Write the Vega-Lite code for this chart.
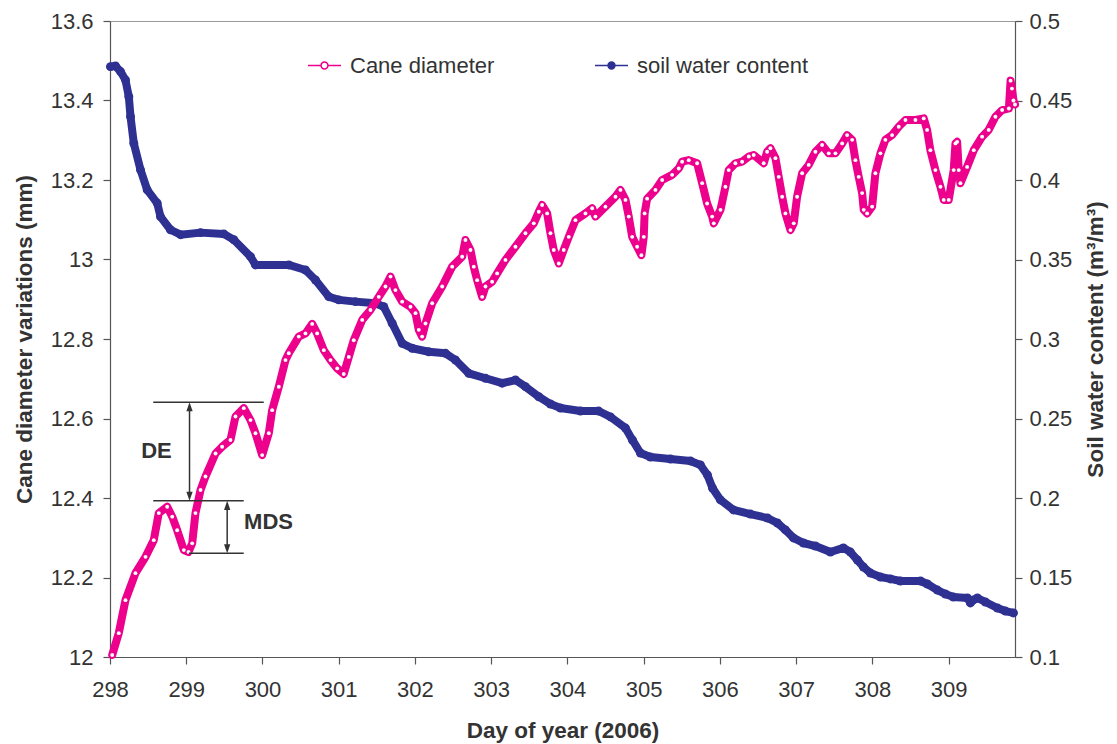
{
  "$schema": "https://vega.github.io/schema/vega-lite/v6.json",
  "width": 905,
  "height": 636,
  "autosize": {"type": "none"},
  "padding": {"left": 110, "top": 21, "right": 102, "bottom": 87},
  "background": "white",
  "config": {
    "font": "Liberation Sans",
    "view": {"stroke": "#999", "strokeWidth": 1},
    "axis": {
      "grid": false,
      "domainColor": "#555",
      "domainWidth": 1.2,
      "tickColor": "#555",
      "tickWidth": 1.2,
      "tickSize": 7,
      "labelFont": "Liberation Sans",
      "labelFontSize": 22,
      "labelColor": "#333",
      "labelFlush": false,
      "titleFont": "Liberation Sans",
      "titleFontSize": 22.5,
      "titleFontWeight": "bold",
      "titleColor": "#333"
    },
    "legend": {
      "title": null,
      "orient": "none",
      "symbolType": "M-1,0L-0.21,0M0.21,0L1,0M-0.21,0A0.21,0.21,0,1,1,0.21,0A0.21,0.21,0,1,1,-0.21,0Z",
      "symbolSize": 1089,
      "symbolStrokeWidth": 1.5,
      "symbolOpacity": 1,
      "labelFont": "Liberation Sans",
      "labelFontSize": 22,
      "labelColor": "#333",
      "labelOffset": 8,
      "labelLimit": 500
    }
  },
  "datasets": {
    "series": [
      {"day": 298.029, "value": 12.005, "series": "Cane diameter"},
      {"day": 298.115, "value": 12.060, "series": "Cane diameter"},
      {"day": 298.203, "value": 12.143, "series": "Cane diameter"},
      {"day": 298.334, "value": 12.211, "series": "Cane diameter"},
      {"day": 298.466, "value": 12.252, "series": "Cane diameter"},
      {"day": 298.574, "value": 12.294, "series": "Cane diameter"},
      {"day": 298.640, "value": 12.362, "series": "Cane diameter"},
      {"day": 298.750, "value": 12.378, "series": "Cane diameter"},
      {"day": 298.816, "value": 12.353, "series": "Cane diameter"},
      {"day": 298.881, "value": 12.319, "series": "Cane diameter"},
      {"day": 298.968, "value": 12.269, "series": "Cane diameter"},
      {"day": 299.030, "value": 12.264, "series": "Cane diameter"},
      {"day": 299.078, "value": 12.286, "series": "Cane diameter"},
      {"day": 299.121, "value": 12.362, "series": "Cane diameter"},
      {"day": 299.187, "value": 12.420, "series": "Cane diameter"},
      {"day": 299.252, "value": 12.454, "series": "Cane diameter"},
      {"day": 299.384, "value": 12.512, "series": "Cane diameter"},
      {"day": 299.471, "value": 12.529, "series": "Cane diameter"},
      {"day": 299.580, "value": 12.546, "series": "Cane diameter"},
      {"day": 299.646, "value": 12.605, "series": "Cane diameter"},
      {"day": 299.755, "value": 12.626, "series": "Cane diameter"},
      {"day": 299.843, "value": 12.596, "series": "Cane diameter"},
      {"day": 299.908, "value": 12.563, "series": "Cane diameter"},
      {"day": 299.996, "value": 12.508, "series": "Cane diameter"},
      {"day": 300.083, "value": 12.563, "series": "Cane diameter"},
      {"day": 300.127, "value": 12.621, "series": "Cane diameter"},
      {"day": 300.214, "value": 12.680, "series": "Cane diameter"},
      {"day": 300.302, "value": 12.747, "series": "Cane diameter"},
      {"day": 300.345, "value": 12.764, "series": "Cane diameter"},
      {"day": 300.476, "value": 12.806, "series": "Cane diameter"},
      {"day": 300.564, "value": 12.814, "series": "Cane diameter"},
      {"day": 300.652, "value": 12.838, "series": "Cane diameter"},
      {"day": 300.717, "value": 12.814, "series": "Cane diameter"},
      {"day": 300.804, "value": 12.772, "series": "Cane diameter"},
      {"day": 300.892, "value": 12.747, "series": "Cane diameter"},
      {"day": 300.980, "value": 12.726, "series": "Cane diameter"},
      {"day": 301.066, "value": 12.712, "series": "Cane diameter"},
      {"day": 301.132, "value": 12.755, "series": "Cane diameter"},
      {"day": 301.197, "value": 12.797, "series": "Cane diameter"},
      {"day": 301.308, "value": 12.848, "series": "Cane diameter"},
      {"day": 301.416, "value": 12.873, "series": "Cane diameter"},
      {"day": 301.525, "value": 12.906, "series": "Cane diameter"},
      {"day": 301.613, "value": 12.932, "series": "Cane diameter"},
      {"day": 301.679, "value": 12.957, "series": "Cane diameter"},
      {"day": 301.744, "value": 12.923, "series": "Cane diameter"},
      {"day": 301.832, "value": 12.894, "series": "Cane diameter"},
      {"day": 301.941, "value": 12.881, "series": "Cane diameter"},
      {"day": 302.007, "value": 12.865, "series": "Cane diameter"},
      {"day": 302.050, "value": 12.823, "series": "Cane diameter"},
      {"day": 302.094, "value": 12.806, "series": "Cane diameter"},
      {"day": 302.138, "value": 12.839, "series": "Cane diameter"},
      {"day": 302.226, "value": 12.890, "series": "Cane diameter"},
      {"day": 302.357, "value": 12.932, "series": "Cane diameter"},
      {"day": 302.488, "value": 12.982, "series": "Cane diameter"},
      {"day": 302.619, "value": 13.007, "series": "Cane diameter"},
      {"day": 302.662, "value": 13.049, "series": "Cane diameter"},
      {"day": 302.728, "value": 13.024, "series": "Cane diameter"},
      {"day": 302.771, "value": 12.982, "series": "Cane diameter"},
      {"day": 302.816, "value": 12.948, "series": "Cane diameter"},
      {"day": 302.881, "value": 12.906, "series": "Cane diameter"},
      {"day": 302.925, "value": 12.932, "series": "Cane diameter"},
      {"day": 303.012, "value": 12.944, "series": "Cane diameter"},
      {"day": 303.078, "value": 12.965, "series": "Cane diameter"},
      {"day": 303.187, "value": 12.999, "series": "Cane diameter"},
      {"day": 303.318, "value": 13.032, "series": "Cane diameter"},
      {"day": 303.449, "value": 13.066, "series": "Cane diameter"},
      {"day": 303.558, "value": 13.091, "series": "Cane diameter"},
      {"day": 303.624, "value": 13.120, "series": "Cane diameter"},
      {"day": 303.668, "value": 13.137, "series": "Cane diameter"},
      {"day": 303.734, "value": 13.116, "series": "Cane diameter"},
      {"day": 303.777, "value": 13.066, "series": "Cane diameter"},
      {"day": 303.820, "value": 13.024, "series": "Cane diameter"},
      {"day": 303.886, "value": 12.990, "series": "Cane diameter"},
      {"day": 303.951, "value": 13.024, "series": "Cane diameter"},
      {"day": 304.017, "value": 13.057, "series": "Cane diameter"},
      {"day": 304.105, "value": 13.099, "series": "Cane diameter"},
      {"day": 304.236, "value": 13.116, "series": "Cane diameter"},
      {"day": 304.324, "value": 13.129, "series": "Cane diameter"},
      {"day": 304.367, "value": 13.108, "series": "Cane diameter"},
      {"day": 304.498, "value": 13.133, "series": "Cane diameter"},
      {"day": 304.630, "value": 13.158, "series": "Cane diameter"},
      {"day": 304.695, "value": 13.175, "series": "Cane diameter"},
      {"day": 304.761, "value": 13.150, "series": "Cane diameter"},
      {"day": 304.804, "value": 13.108, "series": "Cane diameter"},
      {"day": 304.849, "value": 13.057, "series": "Cane diameter"},
      {"day": 304.914, "value": 13.032, "series": "Cane diameter"},
      {"day": 304.970, "value": 13.011, "series": "Cane diameter"},
      {"day": 305.001, "value": 13.057, "series": "Cane diameter"},
      {"day": 305.012, "value": 13.116, "series": "Cane diameter"},
      {"day": 305.045, "value": 13.153, "series": "Cane diameter"},
      {"day": 305.154, "value": 13.175, "series": "Cane diameter"},
      {"day": 305.242, "value": 13.200, "series": "Cane diameter"},
      {"day": 305.373, "value": 13.213, "series": "Cane diameter"},
      {"day": 305.460, "value": 13.229, "series": "Cane diameter"},
      {"day": 305.504, "value": 13.246, "series": "Cane diameter"},
      {"day": 305.591, "value": 13.250, "series": "Cane diameter"},
      {"day": 305.701, "value": 13.242, "series": "Cane diameter"},
      {"day": 305.767, "value": 13.192, "series": "Cane diameter"},
      {"day": 305.832, "value": 13.141, "series": "Cane diameter"},
      {"day": 305.898, "value": 13.108, "series": "Cane diameter"},
      {"day": 305.919, "value": 13.091, "series": "Cane diameter"},
      {"day": 306.007, "value": 13.125, "series": "Cane diameter"},
      {"day": 306.072, "value": 13.183, "series": "Cane diameter"},
      {"day": 306.115, "value": 13.225, "series": "Cane diameter"},
      {"day": 306.203, "value": 13.242, "series": "Cane diameter"},
      {"day": 306.291, "value": 13.246, "series": "Cane diameter"},
      {"day": 306.378, "value": 13.259, "series": "Cane diameter"},
      {"day": 306.443, "value": 13.263, "series": "Cane diameter"},
      {"day": 306.574, "value": 13.242, "series": "Cane diameter"},
      {"day": 306.619, "value": 13.271, "series": "Cane diameter"},
      {"day": 306.662, "value": 13.280, "series": "Cane diameter"},
      {"day": 306.728, "value": 13.255, "series": "Cane diameter"},
      {"day": 306.771, "value": 13.208, "series": "Cane diameter"},
      {"day": 306.816, "value": 13.158, "series": "Cane diameter"},
      {"day": 306.859, "value": 13.116, "series": "Cane diameter"},
      {"day": 306.925, "value": 13.074, "series": "Cane diameter"},
      {"day": 306.968, "value": 13.091, "series": "Cane diameter"},
      {"day": 307.012, "value": 13.158, "series": "Cane diameter"},
      {"day": 307.078, "value": 13.217, "series": "Cane diameter"},
      {"day": 307.164, "value": 13.238, "series": "Cane diameter"},
      {"day": 307.252, "value": 13.271, "series": "Cane diameter"},
      {"day": 307.340, "value": 13.288, "series": "Cane diameter"},
      {"day": 307.427, "value": 13.267, "series": "Cane diameter"},
      {"day": 307.515, "value": 13.267, "series": "Cane diameter"},
      {"day": 307.603, "value": 13.292, "series": "Cane diameter"},
      {"day": 307.668, "value": 13.313, "series": "Cane diameter"},
      {"day": 307.734, "value": 13.301, "series": "Cane diameter"},
      {"day": 307.777, "value": 13.250, "series": "Cane diameter"},
      {"day": 307.820, "value": 13.208, "series": "Cane diameter"},
      {"day": 307.865, "value": 13.167, "series": "Cane diameter"},
      {"day": 307.886, "value": 13.125, "series": "Cane diameter"},
      {"day": 307.931, "value": 13.116, "series": "Cane diameter"},
      {"day": 307.996, "value": 13.133, "series": "Cane diameter"},
      {"day": 308.039, "value": 13.217, "series": "Cane diameter"},
      {"day": 308.105, "value": 13.267, "series": "Cane diameter"},
      {"day": 308.170, "value": 13.301, "series": "Cane diameter"},
      {"day": 308.258, "value": 13.313, "series": "Cane diameter"},
      {"day": 308.345, "value": 13.334, "series": "Cane diameter"},
      {"day": 308.433, "value": 13.351, "series": "Cane diameter"},
      {"day": 308.564, "value": 13.351, "series": "Cane diameter"},
      {"day": 308.673, "value": 13.355, "series": "Cane diameter"},
      {"day": 308.717, "value": 13.326, "series": "Cane diameter"},
      {"day": 308.760, "value": 13.275, "series": "Cane diameter"},
      {"day": 308.826, "value": 13.225, "series": "Cane diameter"},
      {"day": 308.892, "value": 13.183, "series": "Cane diameter"},
      {"day": 308.935, "value": 13.150, "series": "Cane diameter"},
      {"day": 309.001, "value": 13.150, "series": "Cane diameter"},
      {"day": 309.066, "value": 13.225, "series": "Cane diameter"},
      {"day": 309.089, "value": 13.292, "series": "Cane diameter"},
      {"day": 309.111, "value": 13.296, "series": "Cane diameter"},
      {"day": 309.132, "value": 13.225, "series": "Cane diameter"},
      {"day": 309.154, "value": 13.192, "series": "Cane diameter"},
      {"day": 309.242, "value": 13.233, "series": "Cane diameter"},
      {"day": 309.329, "value": 13.275, "series": "Cane diameter"},
      {"day": 309.439, "value": 13.309, "series": "Cane diameter"},
      {"day": 309.525, "value": 13.326, "series": "Cane diameter"},
      {"day": 309.613, "value": 13.359, "series": "Cane diameter"},
      {"day": 309.701, "value": 13.376, "series": "Cane diameter"},
      {"day": 309.790, "value": 13.380, "series": "Cane diameter"},
      {"day": 309.812, "value": 13.450, "series": "Cane diameter"},
      {"day": 309.830, "value": 13.430, "series": "Cane diameter"},
      {"day": 309.850, "value": 13.400, "series": "Cane diameter"},
      {"day": 309.870, "value": 13.390, "series": "Cane diameter"},
      {"day": 298.007, "value": 0.4713, "series": "soil water content"},
      {"day": 298.072, "value": 0.4717, "series": "soil water content"},
      {"day": 298.138, "value": 0.4682, "series": "soil water content"},
      {"day": 298.203, "value": 0.4629, "series": "soil water content"},
      {"day": 298.247, "value": 0.4524, "series": "soil water content"},
      {"day": 298.269, "value": 0.4399, "series": "soil water content"},
      {"day": 298.312, "value": 0.4231, "series": "soil water content"},
      {"day": 298.400, "value": 0.4064, "series": "soil water content"},
      {"day": 298.488, "value": 0.3938, "series": "soil water content"},
      {"day": 298.619, "value": 0.3855, "series": "soil water content"},
      {"day": 298.662, "value": 0.3770, "series": "soil water content"},
      {"day": 298.793, "value": 0.3687, "series": "soil water content"},
      {"day": 298.925, "value": 0.3656, "series": "soil water content"},
      {"day": 299.187, "value": 0.3669, "series": "soil water content"},
      {"day": 299.492, "value": 0.3661, "series": "soil water content"},
      {"day": 299.624, "value": 0.3624, "series": "soil water content"},
      {"day": 299.843, "value": 0.3518, "series": "soil water content"},
      {"day": 299.908, "value": 0.3466, "series": "soil water content"},
      {"day": 300.345, "value": 0.3466, "series": "soil water content"},
      {"day": 300.564, "value": 0.3434, "series": "soil water content"},
      {"day": 300.695, "value": 0.3371, "series": "soil water content"},
      {"day": 300.870, "value": 0.3266, "series": "soil water content"},
      {"day": 301.001, "value": 0.3246, "series": "soil water content"},
      {"day": 301.220, "value": 0.3235, "series": "soil water content"},
      {"day": 301.482, "value": 0.3225, "series": "soil water content"},
      {"day": 301.591, "value": 0.3203, "series": "soil water content"},
      {"day": 301.701, "value": 0.3099, "series": "soil water content"},
      {"day": 301.832, "value": 0.2973, "series": "soil water content"},
      {"day": 301.963, "value": 0.2942, "series": "soil water content"},
      {"day": 302.181, "value": 0.2920, "series": "soil water content"},
      {"day": 302.400, "value": 0.2910, "series": "soil water content"},
      {"day": 302.531, "value": 0.2868, "series": "soil water content"},
      {"day": 302.706, "value": 0.2784, "series": "soil water content"},
      {"day": 302.925, "value": 0.2753, "series": "soil water content"},
      {"day": 303.144, "value": 0.2722, "series": "soil water content"},
      {"day": 303.318, "value": 0.2742, "series": "soil water content"},
      {"day": 303.449, "value": 0.2700, "series": "soil water content"},
      {"day": 303.624, "value": 0.2637, "series": "soil water content"},
      {"day": 303.777, "value": 0.2591, "series": "soil water content"},
      {"day": 303.908, "value": 0.2566, "series": "soil water content"},
      {"day": 304.170, "value": 0.2547, "series": "soil water content"},
      {"day": 304.407, "value": 0.2547, "series": "soil water content"},
      {"day": 304.564, "value": 0.2510, "series": "soil water content"},
      {"day": 304.761, "value": 0.2440, "series": "soil water content"},
      {"day": 304.852, "value": 0.2365, "series": "soil water content"},
      {"day": 304.957, "value": 0.2283, "series": "soil water content"},
      {"day": 305.088, "value": 0.2258, "series": "soil water content"},
      {"day": 305.351, "value": 0.2245, "series": "soil water content"},
      {"day": 305.613, "value": 0.2233, "series": "soil water content"},
      {"day": 305.744, "value": 0.2208, "series": "soil water content"},
      {"day": 305.836, "value": 0.2145, "series": "soil water content"},
      {"day": 305.902, "value": 0.2063, "series": "soil water content"},
      {"day": 306.007, "value": 0.1988, "series": "soil water content"},
      {"day": 306.177, "value": 0.1925, "series": "soil water content"},
      {"day": 306.400, "value": 0.1899, "series": "soil water content"},
      {"day": 306.623, "value": 0.1874, "series": "soil water content"},
      {"day": 306.754, "value": 0.1843, "series": "soil water content"},
      {"day": 306.859, "value": 0.1799, "series": "soil water content"},
      {"day": 306.964, "value": 0.1749, "series": "soil water content"},
      {"day": 307.095, "value": 0.1717, "series": "soil water content"},
      {"day": 307.252, "value": 0.1698, "series": "soil water content"},
      {"day": 307.449, "value": 0.1660, "series": "soil water content"},
      {"day": 307.620, "value": 0.1686, "series": "soil water content"},
      {"day": 307.711, "value": 0.1660, "series": "soil water content"},
      {"day": 307.803, "value": 0.1610, "series": "soil water content"},
      {"day": 307.882, "value": 0.1566, "series": "soil water content"},
      {"day": 307.974, "value": 0.1528, "series": "soil water content"},
      {"day": 308.105, "value": 0.1503, "series": "soil water content"},
      {"day": 308.236, "value": 0.1491, "series": "soil water content"},
      {"day": 308.367, "value": 0.1478, "series": "soil water content"},
      {"day": 308.630, "value": 0.1478, "series": "soil water content"},
      {"day": 308.721, "value": 0.1459, "series": "soil water content"},
      {"day": 308.852, "value": 0.1421, "series": "soil water content"},
      {"day": 308.957, "value": 0.1396, "series": "soil water content"},
      {"day": 309.062, "value": 0.1377, "series": "soil water content"},
      {"day": 309.246, "value": 0.1371, "series": "soil water content"},
      {"day": 309.285, "value": 0.1340, "series": "soil water content"},
      {"day": 309.325, "value": 0.1359, "series": "soil water content"},
      {"day": 309.377, "value": 0.1371, "series": "soil water content"},
      {"day": 309.482, "value": 0.1346, "series": "soil water content"},
      {"day": 309.639, "value": 0.1308, "series": "soil water content"},
      {"day": 309.744, "value": 0.1289, "series": "soil water content"},
      {"day": 309.849, "value": 0.1277, "series": "soil water content"}
    ],
    "hlines": [
      {"day": 298.567, "day2": 300.017, "value": 12.641},
      {"day": 298.567, "day2": 299.754, "value": 12.393},
      {"day": 299.033, "day2": 299.754, "value": 12.261}
    ],
    "arrows": [
      {"day": 299.043, "value": 12.630, "value2": 12.405},
      {"day": 299.537, "value": 12.382, "value2": 12.272}
    ],
    "heads": [
      {"day": 299.043, "value": 12.641, "dir": "up"},
      {"day": 299.043, "value": 12.393, "dir": "down"},
      {"day": 299.537, "value": 12.393, "dir": "up"},
      {"day": 299.537, "value": 12.261, "dir": "down"}
    ],
    "labels": [
      {"day": 298.61, "value": 12.518, "text": "DE"},
      {"day": 300.079, "value": 12.340, "text": "MDS"}
    ]
  },
  "encoding": {
    "x": {
      "field": "day",
      "type": "quantitative",
      "scale": {"domain": [298, 309.87], "nice": false, "zero": false},
      "axis": {
        "title": "Day of year (2006)",
        "values": [298, 299, 300, 301, 302, 303, 304, 305, 306, 307, 308, 309],
        "labelPadding": 15,
        "titlePadding": 19
      }
    }
  },
  "layer": [
    {
      "data": {"name": "series"},
      "transform": [{"filter": "datum.series === 'soil water content'"}],
      "encoding": {
        "y": {
          "field": "value",
          "type": "quantitative",
          "scale": {"domain": [0.1, 0.5], "nice": false, "zero": false},
          "axis": {
            "orient": "right",
            "title": "Soil water content (m³/m³)",
            "titleAngle": 270,
            "values": [0.1, 0.15, 0.2, 0.25, 0.3, 0.35, 0.4, 0.45, 0.5],
            "labelExpr": "format(datum.value, '~g')",
            "labelPadding": 7,
            "titlePadding": 36
          }
        }
      },
      "layer": [
        {"mark": {"type": "line", "color": "#2E3192", "strokeWidth": 8, "strokeCap": "round", "strokeJoin": "round", "opacity": 1}},
        {
          "mark": {"type": "point", "filled": true, "size": 80, "opacity": 1},
          "encoding": {
            "fill": {
              "field": "series",
              "type": "nominal",
              "scale": {"domain": ["soil water content"], "range": ["#2E3192"]},
              "legend": {
                "legendX": 484,
                "legendY": 27,
                "symbolFillColor": "#2E3192",
                "symbolStrokeColor": "#2E3192"
              }
            }
          }
        }
      ]
    },
    {
      "layer": [
        {
          "data": {"name": "series"},
          "transform": [{"filter": "datum.series === 'Cane diameter'"}],
          "encoding": {
            "y": {
              "field": "value",
              "type": "quantitative",
              "scale": {"domain": [12, 13.6], "nice": false, "zero": false},
              "axis": {
                "orient": "left",
                "title": "Cane diameter variations (mm)",
                "values": [12, 12.05, 12.1, 12.15, 12.2, 12.25, 12.3, 12.35, 12.4, 12.45, 12.5, 12.55, 12.6, 12.65, 12.7, 12.75, 12.8, 12.85, 12.9, 12.95, 13, 13.05, 13.1, 13.15, 13.2, 13.25, 13.3, 13.35, 13.4, 13.45, 13.5, 13.55, 13.6],
                "labelExpr": "abs(datum.value * 5 - round(datum.value * 5)) < 0.001 ? format(datum.value, '.3~g') : ''",
                "labelPadding": 10,
                "titlePadding": 14
              }
            }
          },
          "layer": [
            {
              "mark": {"type": "line", "strokeWidth": 8, "strokeCap": "round", "strokeJoin": "round", "opacity": 1},
              "encoding": {
                "stroke": {
                  "field": "series",
                  "type": "nominal",
                  "scale": {"domain": ["Cane diameter"], "range": ["#EC008C"]},
                  "legend": {
                    "legendX": 197,
                    "legendY": 27,
                    "symbolFillColor": "white",
                    "symbolStrokeColor": "#EC008C"
                  }
                }
              }
            },
            {"mark": {"type": "point", "filled": true, "color": "white", "size": 15, "opacity": 1, "strokeWidth": 0}}
          ]
        },
        {
          "data": {"name": "hlines"},
          "mark": {"type": "rule", "color": "#333", "strokeWidth": 1.5},
          "encoding": {
            "x2": {"field": "day2"},
            "y": {"field": "value", "type": "quantitative"}
          }
        },
        {
          "data": {"name": "arrows"},
          "mark": {"type": "rule", "color": "#333", "strokeWidth": 1.5},
          "encoding": {
            "y": {"field": "value", "type": "quantitative"},
            "y2": {"field": "value2"}
          }
        },
        {
          "data": {"name": "heads"},
          "mark": {"type": "point", "filled": true, "color": "#333", "size": 196, "opacity": 1, "strokeWidth": 0},
          "encoding": {
            "y": {"field": "value", "type": "quantitative"},
            "shape": {
              "field": "dir",
              "type": "nominal",
              "scale": {"domain": ["up", "down"], "range": ["M0,0L-0.45,1.3L0.45,1.3Z", "M0,0L-0.45,-1.3L0.45,-1.3Z"]},
              "legend": null
            }
          }
        },
        {
          "data": {"name": "labels"},
          "mark": {"type": "text", "font": "Liberation Sans", "fontSize": 22, "fontWeight": "bold", "color": "#333", "align": "center", "baseline": "middle"},
          "encoding": {
            "y": {"field": "value", "type": "quantitative"},
            "text": {"field": "text"}
          }
        }
      ]
    }
  ],
  "resolve": {"scale": {"y": "independent"}}
}
